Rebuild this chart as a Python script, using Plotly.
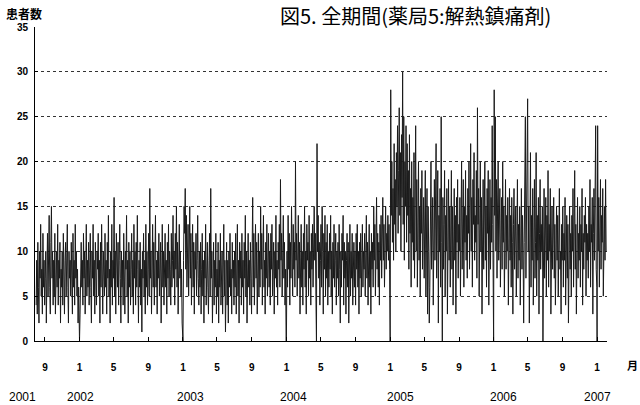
import pandas as pd
import plotly.graph_objects as go

v2001 = [4, 9, 3, 11, 6, 2, 10, 7, 13, 5, 8, 3, 12, 6, 9, 4,
         7, 10, 2, 8, 12, 5, 9, 14, 6, 3, 11, 15, 7, 10, 4,
         9, 5, 12, 3, 8, 10, 6, 13, 4, 9, 7, 11, 2, 8, 6,
         10, 4, 12, 7, 3, 9, 11, 5, 8, 13, 6, 2, 10, 7, 9,
         5, 11, 8, 3, 12, 6, 9, 4, 13, 7, 10, 5, 8, 2, 6, 0]
v2002 = [0, 3, 8, 11, 6, 9, 4, 12, 7, 10, 3, 8, 13, 5, 9, 6,
         11, 4, 8, 12, 6, 2, 10, 7, 13, 5, 9, 3, 11, 7,
         4, 10, 8, 12, 5, 9, 2, 11, 6, 13, 7, 3, 10, 8, 5,
         12, 6, 9, 3, 11, 7, 14, 5, 8, 2, 10, 6, 13, 4, 9,
         7, 16, 5, 10, 3, 12, 8, 6, 11, 4, 9, 13, 7, 2, 10, 6,
         9, 4, 12, 7, 3, 10, 8, 14, 5, 9, 2, 11, 6, 10, 4,
         8, 12, 5, 9, 3, 13, 7, 10, 4, 11, 6, 14, 8, 2, 9,
         6, 11, 4, 8, 1, 10, 7, 12, 5, 9, 3, 13, 6, 10, 4, 8,
         12, 5, 17, 7, 10, 3, 9, 13, 6, 11, 4, 8, 14, 6, 9,
         3, 10, 7, 12, 5, 8, 11, 2, 9, 13, 6, 10, 4, 8, 12,
         6, 9, 3, 11, 7, 13, 5, 10, 8, 4, 12, 6, 9, 14, 7,
         10, 4, 12, 8, 15, 6, 11, 3, 9, 13, 7, 10, 5, 8, 2, 0]
v2003 = [0, 9, 15, 12, 17, 8, 14, 6, 11, 13, 5, 10, 15, 7, 12, 4,
         9, 13, 6, 11, 3, 10, 8, 12, 5, 9, 14, 7, 4, 10,
         6, 11, 3, 8, 12, 5, 9, 2, 10, 7, 13, 4, 8, 11, 6,
         3, 9, 12, 5, 17, 7, 10, 2, 8, 11, 4, 9, 6, 12, 3,
         8, 5, 11, 2, 9, 6, 12, 4, 7, 10, 3, 8, 13, 5, 9, 1,
         7, 11, 4, 9, 2, 10, 6, 12, 5, 8, 3, 11, 7, 9, 4,
         10, 6, 12, 3, 8, 13, 5, 9, 2, 11, 7, 10, 4, 12, 6,
         9, 3, 11, 7, 14, 5, 10, 2, 8, 12, 6, 9, 4, 11, 7, 3,
         10, 16, 6, 12, 4, 9, 13, 7, 11, 3, 8, 12, 5, 10, 6,
         15, 8, 12, 4, 10, 14, 6, 9, 3, 11, 7, 13, 5, 8, 12,
         6, 10, 4, 12, 8, 13, 5, 9, 11, 3, 10, 7, 14, 6, 9,
         4, 11, 8, 13, 6, 18, 9, 12, 5, 10, 14, 7, 11, 4, 8, 0]
v2004 = [0, 10, 6, 14, 8, 12, 4, 11, 7, 15, 9, 5, 13, 8, 11, 6,
         20, 9, 12, 5, 10, 14, 7, 11, 3, 9, 13, 6, 10, 4,
         12, 8, 15, 6, 10, 3, 13, 9, 11, 5, 14, 7, 10, 4, 12,
         8, 13, 6, 11, 15, 9, 12, 5, 0, 22, 10, 14, 7, 11, 4,
         9, 13, 6, 15, 10, 3, 12, 8, 14, 5, 11, 7, 13, 4, 10, 6,
         12, 8, 14, 5, 10, 3, 11, 7, 13, 6, 9, 12, 4, 10, 7,
         11, 5, 13, 8, 2, 10, 6, 12, 9, 14, 4, 11, 7, 10, 3,
         9, 12, 6, 11, 2, 8, 13, 5, 10, 7, 12, 4, 9, 11, 6, 10,
         4, 12, 8, 13, 6, 10, 3, 11, 7, 12, 5, 9, 13, 6, 10,
         8, 12, 5, 10, 14, 7, 11, 4, 9, 13, 6, 10, 3, 12, 8,
         11, 6, 15, 9, 13, 5, 10, 16, 8, 12, 6, 11, 4, 13, 9,
         14, 7, 12, 16, 9, 13, 6, 11, 15, 8, 12, 10, 14, 9, 13, 8]
v2005 = [0, 28, 14, 20, 11, 17, 9, 22, 13, 18, 10, 21, 15, 24, 12, 19,
         26, 14, 21, 10, 23, 16, 30, 13, 25, 9, 20, 15, 24, 11,
         22, 14, 19, 8, 23, 12, 17, 6, 20, 11, 16, 9, 21, 7, 15,
         24, 10, 18, 6, 14, 20, 9, 15, 5, 17, 12, 19, 8, 13, 16,
         7, 14, 19, 5, 12, 17, 3, 15, 10, 2, 6, 13, 20, 8, 11, 16,
         4, 12, 18, 9, 15, 22, 7, 13, 19, 2, 14, 10, 17, 6, 25,
         11, 0, 16, 8, 13, 19, 5, 14, 10, 17, 3, 12, 18, 9, 15,
         6, 13, 19, 8, 15, 4, 12, 17, 9, 14, 3, 16, 11, 18, 7, 13,
         10, 16, 5, 14, 20, 8, 13, 18, 6, 15, 11, 19, 9, 14, 7,
         17, 12, 20, 8, 15, 22, 10, 16, 6, 18, 13, 21, 9, 14, 11,
         19, 7, 26, 13, 17, 5, 15, 20, 10, 16, 3, 14, 18, 8, 12,
         20, 9, 15, 6, 17, 12, 19, 4, 14, 18, 8, 16, 11, 24, 13, 7]
v2006 = [0, 28, 14, 25, 10, 18, 7, 15, 20, 9, 13, 17, 6, 12, 16, 8,
         20, 11, 15, 5, 13, 18, 8, 14, 10, 16, 4, 12, 17, 9,
         14, 6, 16, 11, 3, 13, 17, 8, 12, 15, 5, 10, 18, 7, 13,
         9, 15, 4, 12, 17, 8, 14, 10, 2, 11, 16, 25, 7, 13, 19,
         27, 10, 15, 2, 12, 21, 6, 14, 9, 17, 4, 13, 18, 7, 11, 21,
         5, 14, 9, 16, 3, 12, 18, 8, 13, 10, 15, 0, 11, 17, 7,
         12, 16, 5, 14, 9, 19, 6, 13, 10, 17, 3, 11, 15, 8, 12,
         16, 7, 13, 4, 11, 15, 9, 14, 5, 12, 17, 8, 10, 3, 13, 9,
         15, 6, 12, 9, 16, 4, 11, 14, 7, 13, 2, 10, 15, 8, 12,
         5, 14, 10, 17, 6, 12, 19, 8, 13, 3, 11, 16, 7, 12, 9,
         15, 6, 13, 10, 17, 4, 12, 8, 14, 11, 16, 5, 13, 9, 12,
         7, 15, 10, 18, 6, 13, 11, 16, 3, 12, 17, 9, 14, 24, 8, 6]
v2007 = [0, 24, 10, 16, 6, 13, 18, 8, 14, 11, 17, 5, 12, 15, 9, 18, 10]

segments = [("2001-08-01", v2001), ("2002-01-01", v2002), ("2003-01-01", v2003),
            ("2004-01-01", v2004), ("2005-01-01", v2005), ("2006-01-01", v2006),
            ("2007-01-01", v2007)]

month_ticks = ["2001-09-01", "2002-01-01", "2002-05-01", "2002-09-01", "2003-01-01",
               "2003-05-01", "2003-09-01", "2004-01-01", "2004-05-01", "2004-09-01",
               "2005-01-01", "2005-05-01", "2005-09-01", "2006-01-01", "2006-05-01",
               "2006-09-01", "2007-01-01"]
month_labels = ["9", "1", "5", "9", "1", "5", "9", "1", "5", "9", "1", "5", "9", "1", "5", "9", "1"]
year_labels = ["2001", "2002", "2003", "2004", "2005", "2006", "2007"]
y_ticks = [0, 5, 10, 15, 20, 25, 30, 35]

xs, ys = [], []
for start, vals in segments:
    xs.extend(pd.date_range(start, periods=len(vals), freq="2D"))
    ys.extend(vals)

fig = go.Figure()
fig.add_trace(go.Scatter(x=xs, y=ys, mode="lines",
                         line=dict(color="#1a1a1a", width=1), hoverinfo="skip"))

L, R, T, B = 35, 33, 27, 64
W, H = 640, 405
pw, ph = W - L - R, H - T - B

def px(xp):
    return (xp - L) / pw

def py(yp):
    return (H - B - yp) / ph

tickfont = dict(family="Liberation Sans, Arial", size=10, color="black", weight="bold")

fig.update_layout(
    width=W, height=H, margin=dict(l=L, r=R, t=T, b=B),
    paper_bgcolor="white", plot_bgcolor="white", showlegend=False,
    xaxis=dict(type="date", range=["2001-07-28", "2007-02-05"],
               tickvals=month_ticks, ticktext=month_labels, tickfont=tickfont,
               showgrid=False, showline=True, linecolor="black", linewidth=1,
               ticks="inside", ticklen=4, tickcolor="black",
               ticklabelstandoff=17, zeroline=False),
    yaxis=dict(range=[0, 35], tickvals=y_ticks, tickfont=tickfont,
               showgrid=True, gridcolor="#333", gridwidth=1, griddash="dot",
               showline=True, linecolor="black", linewidth=1,
               ticks="inside", ticklen=3, tickcolor="black",
               ticklabelstandoff=4, zeroline=False),
)

ann = []
year_px = [22, 80, 190, 293, 400, 503, 597]
for lab, xp in zip(year_labels, year_px):
    ann.append(dict(text=lab, x=px(xp), y=py(397), xref="paper", yref="paper",
                    xanchor="center", yanchor="middle", showarrow=False,
                    font=dict(family="Liberation Sans, Arial", size=12, color="black")))
ann.append(dict(text="月", x=px(632), y=py(365), xref="paper", yref="paper",
                xanchor="center", yanchor="middle", showarrow=False,
                font=dict(family="Noto Sans CJK JP", size=11, color="black", weight="bold")))
ann.append(dict(text="患者数", x=px(24), y=py(13), xref="paper", yref="paper",
                xanchor="center", yanchor="middle", showarrow=False,
                font=dict(family="Noto Sans CJK JP", size=12, color="black", weight="bold")))
ann.append(dict(text="図5. 全期間(薬局5:解熱鎮痛剤)", x=px(415), y=py(15), xref="paper", yref="paper",
                xanchor="center", yanchor="middle", showarrow=False,
                font=dict(family="Noto Sans CJK JP", size=20, color="black")))
fig.update_layout(annotations=ann)

fig.write_html("out.html")
